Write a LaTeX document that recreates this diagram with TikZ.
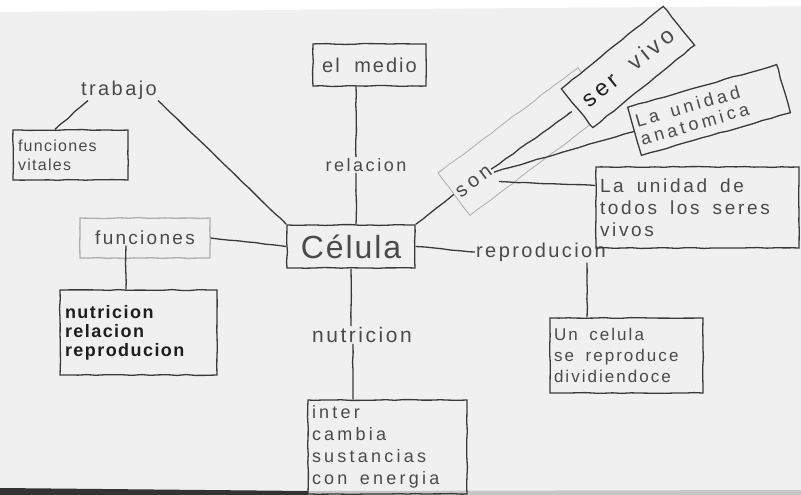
\documentclass[tikz,border=0pt]{standalone}
\usepackage{fontspec}
\setmainfont{Liberation Sans}
\newfontfamily\hand{Liberation Sans}
\usetikzlibrary{decorations.pathmorphing}
\definecolor{paper}{HTML}{F0F0F0}
\definecolor{pencil}{HTML}{3A3A3A}
\definecolor{faint}{HTML}{ADADAD}
\definecolor{ink}{HTML}{4A4A4A}
\definecolor{darkink}{HTML}{1E1E1E}
% hand lettering: size, leading, letter spacing
\newcommand\handsz[3]{\hand\addfontfeature{LetterSpace=#3}\fontsize{#1}{#2}\selectfont}
% wide gap between handwritten words
\newcommand\ws{\ \hspace{0.35em}}

\begin{document}
\pgfmathsetseed{7}
\begin{tikzpicture}[x=1pt, y=-1pt,
  sketch/.style={decorate, decoration={random steps, segment length=9pt, amplitude=0.45pt}},
  link/.style={draw=pencil, line width=1.3pt, sketch},
  card/.style={draw=pencil, line width=1.3pt, sketch, rectangle, inner sep=4pt, align=left, text=ink},
  word/.style={inner sep=1pt, text=ink},
]
% sheet of paper
\useasboundingbox (0,0) rectangle (801,495);
\fill[paper] (0,0) rectangle (801,495);
\fill[white] (0,0) -- (801,0) -- (801,6) -- (0,12) -- cycle;
\fill[black!80] (0,488) -- (308,491) -- (308,495) -- (0,495) -- cycle;
\fill[gray!45] (308,491) -- (801,490) -- (801,495) -- (308,495) -- cycle;

% central concept
\node[card, minimum width=128, minimum height=43, align=center, font=\handsz{32}{34}{6}] (celula) at (351,246.5) {Célula};

% upper branch
\node[card, minimum width=113, minimum height=42, align=center, font=\handsz{20}{24}{10}] (medio) at (369.5,65) {el\ws medio};
\node[word, font=\handsz{18}{20}{14}] (relacion) at (366,165) {relacion};

% upper left branch
\node[word, font=\handsz{20}{22}{12}] (trabajo) at (119,90) {trabajo};
\node[card, minimum width=115, minimum height=50, text width=105, font=\handsz{16}{19}{8}] (vitales) at (70.5,155) {funciones\\vitales};

% left branch
\node[card, draw=faint, minimum width=130, minimum height=40, align=center, font=\handsz{19}{22}{12}] (funciones) at (145,238) {funciones};
\node[card, minimum width=157, minimum height=85, text width=147, text=darkink, font=\handsz{18}{19}{8}\bfseries] (trio) at (138.5,332.5) {nutricion\\relacion\\reproducion};

% lower branch
\node[word, font=\handsz{21}{22}{12}] (nutri) at (362,335) {nutricion};
\node[card, minimum width=159, minimum height=94, text width=151, font=\handsz{18}{22}{18}] (cambio) at (387.5,447) {inter\\cambia\\sustancias\\con\ws energia};

% right branch
\node[word, font=\handsz{20}{21}{12}] (repro) at (541,252) {reproducion};
\node[card, minimum width=153, minimum height=75, text width=145, font=\handsz{17}{21}{12}] (divide) at (626.5,355.5) {Un\ws celula\\se\ws reproduce\\dividiendoce};

% upper right branch
\node[card, draw=faint, line width=0.8pt, rotate=37, minimum width=175, minimum height=53] (sonbox) at (524,141.5) {};
\node[word, rotate=37, font=\handsz{20}{22}{20}] (son) at (474,182) {son};
\node[card, fill=paper, rotate=39, minimum width=131, minimum height=50, align=center, font=\handsz{23}{26}{18}] (servivo) at (628,67) {\textcolor{darkink}{ser}\ws vivo};
\node[card, rotate=16, minimum width=153, minimum height=50, text width=147, font=\handsz{18}{19}{20}] (anatomica) at (709,110) {La\ws unidad\\anatomica};
\node[card, minimum width=201, minimum height=81, text width=195, font=\handsz{19}{22}{14}] (unidad) at (697.5,207.5) {La\ws unidad\ws de\\todos\ws los\ws seres\\vivos};

% connectors
\draw[link] ([xshift=-13.5pt]medio.south) -- ([xshift=-10pt]relacion.north);
\draw[link] ([xshift=-10pt]relacion.south) -- ([xshift=5pt]celula.north);
\draw[link] ([xshift=-31pt]trabajo.south) -- ([xshift=-15.5pt]vitales.north);
\draw[link] (trabajo.south east) -- (celula.north west);
\draw[link] (funciones.east) -- (celula.west);
\draw[link] ([xshift=-19pt, yshift=13pt]funciones.south) -- ([xshift=-12.5pt]trio.north);
\draw[link] (celula.south) -- (celula.south |- nutri.north);
\draw[link] ([xshift=-9pt]nutri.south) -- ([xshift=-34.5pt]cambio.north);
\draw[link] (celula.east) -- (repro.west);
\draw[link] ([xshift=46pt]repro.south) -- ([xshift=-39.5pt]divide.north);
\draw[link] (celula.north east) -- (sonbox.west);
\draw[link, shorten >=10pt] (son.east) -- (servivo.west);
\draw[link] ([xshift=3pt, yshift=-3pt]son.east) -- (anatomica.west);
\draw[link] ([xshift=4pt, yshift=-7pt]son.south east) -- ([yshift=22pt]unidad.west);
\end{tikzpicture}
\end{document}
